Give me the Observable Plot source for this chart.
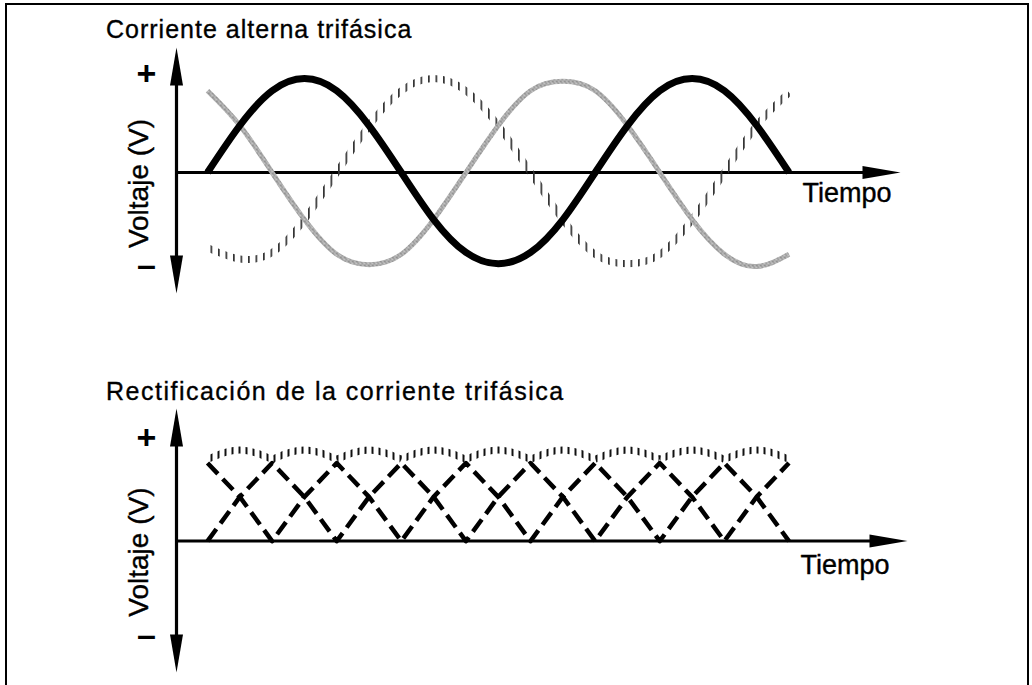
<!DOCTYPE html>
<html><head><meta charset="utf-8">
<script src="https://cdn.jsdelivr.net/npm/d3@7"></script>
<script src="https://cdn.jsdelivr.net/npm/@observablehq/plot@0.6"></script>
<style>
body{margin:0;background:#fff;}
#fig{position:relative;width:1032px;height:685px;overflow:hidden;font-family:"Liberation Sans",Arial,sans-serif;background:#fff;}
.title{position:absolute;left:106px;font-size:25px;line-height:25px;white-space:nowrap;color:#000;-webkit-text-stroke:0.35px #000;}
.panel{position:absolute;left:0;}
.border{position:absolute;left:5px;top:3px;width:1024px;height:720px;border:2px solid #000;box-sizing:border-box;}
</style></head><body>
<div id="fig">
 <div class="border"></div>
 <div class="title" style="top:17px;letter-spacing:1px">Corriente alterna trifásica</div>
 <div class="panel" id="p1" style="top:40px"></div>
 <div class="title" style="top:379px;letter-spacing:1.5px">Rectificación de la corriente trifásica</div>
 <div class="panel" id="p2" style="top:400px"></div>
</div>
<script>
// ---- data ----
const time   = [0,1,2,3,4,5,6,7,8,9,10,11,12,13,14,15,16,17,18];
// top panel: three phases
const phaseA = [0,0.5,0.87,1,0.87,0.5,0,-0.5,-0.85,-0.97,-0.85,-0.5,0,0.5,0.87,1,0.87,0.5,0];        // thick black
const phaseB = [0.87,0.5,0,-0.5,-0.87,-0.98,-0.87,-0.5,0,0.5,0.87,0.97,0.87,0.5,0,-0.5,-0.87,-1,-0.87]; // grey
const phaseC = [-0.8,-0.92,-0.85,-0.5,0,0.5,0.87,1,0.87,0.5,0,-0.5,-0.87,-0.97,-0.87,-0.5,0,0.5,0.85]; // hatched
// bottom panel: rectified
const rectA    = [0.83,0.47,0,0.47,0.83,0.47,0,0.47,0.83,0.47,0,0.47,0.83,0.47,0,0.47,0.83,0.47,0];
const rectB    = [0,0.47,0.83,0.47,0,0.47,0.83,0.47,0,0.47,0.83,0.47,0,0.47,0.83,0.47,0,0.47,0.83];
const envelope = [0.87,0.97,0.87,0.97,0.87,0.97,0.87,0.97,0.87,0.97,0.87,0.97,0.87,0.97,0.87,0.97,0.87,0.97,0.87];
// labels
const signs      = ["+", "–"];
const signsTopY  = [1.05, -0.99];
const signsBotY  = [1.10, -1.0];
const yLabel = "Voltaje (V)";
const xLabel = "Tiempo";
// axis extents (time, voltage)
const topX = [-0.96, 21.45], topY = [-1.287, 1.33];
const botX = [-0.96, 21.67], botY = [-1.397, 1.41];

const toRows = (vals) => time.map((t, i) => ({t, v: vals[i]}));
const FONT = "Liberation Sans, Arial, sans-serif";

function axes(X, Y, tiempoDx, tiempoDy, signY) {
  const heads = [
    {x: X[1], y: 0, rot: 90},
    {x: X[0], y: Y[1], rot: 0},
    {x: X[0], y: Y[0], rot: 180}
  ];
  return [
    Plot.ruleY([0], {stroke: "#000", strokeWidth: 3, insetRight: 20}),
    Plot.ruleX([X[0]], {stroke: "#000", strokeWidth: 3.2, insetTop: 20, insetBottom: 20}),
    Plot.vector(heads, {x: "x", y: "y", rotate: "rot", length: 38, shape: "spike", r: 6.5, anchor: "end", fill: "#000", stroke: "none"}),
    Plot.text(signs, {x: X[0], y: (d, i) => signY[i], text: d => d, dx: -30, fontSize: 34, fontWeight: "bold", fontFamily: FONT, fill: "#000", textAnchor: "middle", lineAnchor: "middle"}),
    Plot.text([yLabel], {x: X[0], y: 0, text: d => d, rotate: -90, dx: -37, dy: 11, fontSize: 28, fontFamily: FONT, fill: "#000", stroke: "#000", strokeWidth: 0.4, textAnchor: "middle", lineAnchor: "middle", style: "letter-spacing:1px"}),
    Plot.text([xLabel], {x: X[1], y: 0, text: d => d, dx: tiempoDx, dy: tiempoDy, fontSize: 27, fontFamily: FONT, fill: "#000", stroke: "#000", strokeWidth: 0.4, textAnchor: "end", lineAnchor: "middle"})
  ];
}

function addDefs(svg) {
  const defs = d3.select(svg).insert("defs", ":first-child");
  const vh = defs.append("pattern").attr("id", "vh").attr("patternUnits", "userSpaceOnUse").attr("width", 7.5).attr("height", 20);
  vh.append("rect").attr("x", 0).attr("y", 0).attr("width", 1.7).attr("height", 20).attr("fill", "#333");
  const vh2 = defs.append("pattern").attr("id", "vh2").attr("patternUnits", "userSpaceOnUse").attr("width", 7).attr("height", 20);
  vh2.append("rect").attr("x", 0).attr("y", 0).attr("width", 2).attr("height", 20).attr("fill", "#111");
  const sp = defs.append("pattern").attr("id", "sp").attr("patternUnits", "userSpaceOnUse").attr("width", 4).attr("height", 4);
  sp.append("rect").attr("width", 4).attr("height", 4).attr("fill", "#acacac");
  [[0,0,"#6a6a6a"],[2,1,"#d8d8d8"],[1,2,"#777"],[3,3,"#d4d4d4"],[3,0,"#888"],[0,3,"#e0e0e0"]].forEach(([x,y,c]) =>
    sp.append("rect").attr("x", x).attr("y", y).attr("width", 1).attr("height", 1).attr("fill", c));
  svg.querySelectorAll('[stroke="#010101"]').forEach(e => e.setAttribute("stroke", "url(#vh)"));
  svg.querySelectorAll('[stroke="#030303"]').forEach(e => e.setAttribute("stroke", "url(#vh2)"));
  svg.querySelectorAll('[stroke="#020202"]').forEach(e => e.setAttribute("stroke", "url(#sp)"));
}

// ---- top panel ----
const topPlot = Plot.plot({
  width: 1032, height: 265,
  marginLeft: 176, marginRight: 132, marginTop: 7, marginBottom: 12,
  x: {domain: topX, axis: null},
  y: {domain: topY, axis: null},
  style: {background: "transparent", overflow: "visible", fontFamily: FONT},
  marks: [
    ...axes(topX, topY, -9, 21, signsTopY),
    Plot.line(toRows(phaseC), {x: "t", y: "v", stroke: "#010101", strokeWidth: 7, curve: "natural", strokeLinecap: "butt"}),
    Plot.line(toRows(phaseB), {x: "t", y: "v", stroke: "#020202", strokeWidth: 5, curve: "natural", strokeLinecap: "butt"}),
    Plot.line(toRows(phaseA), {x: "t", y: "v", stroke: "#000", strokeWidth: 7, curve: "natural", strokeLinecap: "butt"})
  ]
});
addDefs(topPlot);
document.getElementById("p1").appendChild(topPlot);

// ---- bottom panel ----
const envRows = [];
for (let k = 0; k + 2 < time.length; k += 2) {
  for (let j = 0; j < 3; j++) envRows.push({arc: k, t: time[k + j], v: envelope[k + j]});
}
const bottomPlot = Plot.plot({
  width: 1032, height: 285,
  marginLeft: 176, marginRight: 125, marginTop: 8, marginBottom: 13,
  x: {domain: botX, axis: null},
  y: {domain: botY, axis: null},
  style: {background: "transparent", overflow: "visible", fontFamily: FONT},
  marks: [
    ...axes(botX, botY, -18, 24, signsBotY),
    Plot.line(envRows, {x: "t", y: "v", z: "arc", stroke: "#030303", strokeWidth: 7, curve: "natural", strokeLinecap: "butt"}),
    Plot.line(toRows(rectA), {x: "t", y: "v", stroke: "#000", strokeWidth: 4.5, strokeDasharray: "15,7", strokeLinecap: "butt"}),
    Plot.line(toRows(rectB), {x: "t", y: "v", stroke: "#000", strokeWidth: 4.5, strokeDasharray: "15,7", strokeLinecap: "butt"})
  ]
});
addDefs(bottomPlot);
document.getElementById("p2").appendChild(bottomPlot);
</script>
</body></html>
